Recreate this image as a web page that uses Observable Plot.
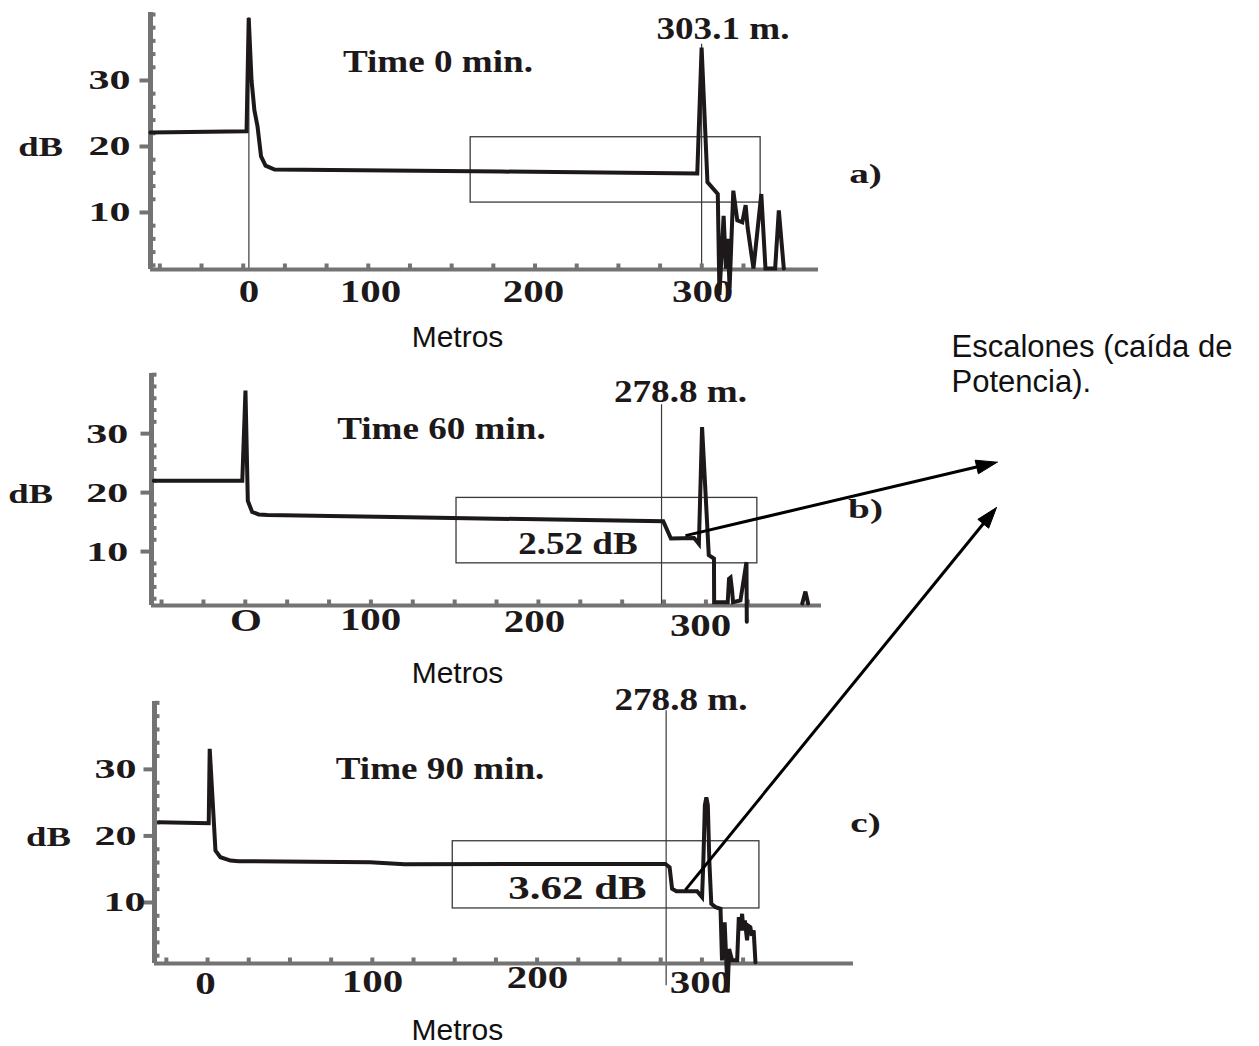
<!DOCTYPE html>
<html>
<head>
<meta charset="utf-8">
<script src="https://cdn.jsdelivr.net/npm/d3@7"></script>
<script src="https://cdn.jsdelivr.net/npm/@observablehq/plot@0.6"></script>
<style>
html, body { margin: 0; padding: 0; background: #fff; }
#page { position: relative; width: 1259px; height: 1046px; overflow: hidden; background: #fff; }
#page svg { position: absolute; left: 0; top: 0; }
</style>
</head>
<body>
<div id="page"></div>
<script>
// ======================= DATA =======================
// OTDR traces: [metros, dB]
const traceA = [[-30.6,22.1],[27.0,22.3],[28.3,39.5],[30.0,30.0],[31.7,25.5],[33.6,23.0],[35.7,18.5],[38.4,17.1],[43.8,16.5],[180,16.2],[297.3,15.9],[299.9,35.0],[303.4,14.6],[309.6,12.8],[310.6,-2.5],[313.1,9.5],[314.5,1.5],[315.5,6.0],[316.7,-1.4],[318.9,13.3],[321.3,8.8],[324.3,8.5],[326.3,11.1],[327.5,7.7],[331.0,1.5],[335.7,12.8],[338.2,1.5],[344.0,1.5],[346.2,10.3],[349.2,1.5]];
const traceB = [[-29.6,22.0],[23.2,22.0],[25.1,37.3],[26.5,18.6],[29.1,16.7],[33.0,16.3],[38.2,16.2],[122.4,15.8],[274.5,15.15],[279.1,12.2],[292.9,12.3],[294.1,11.9],[295.8,11.3],[297.7,31.1],[301.7,9.4],[304.8,8.8],[304.9,1.4],[313.0,1.4],[313.8,5.4],[314.7,5.6],[315.6,3.4],[316.2,1.4],[320.6,1.7],[324.2,8.2],[324.4,-1.9]];
const blipB = [[357.5,1.2],[359.4,3.2],[361.0,1.2]];
const traceC = [[-29.6,22.06],[0.7,21.9],[1.3,33.1],[4.8,17.8],[7.8,16.8],[13.9,16.3],[18.9,16.2],[98.6,16.05],[119.5,15.75],[277.8,15.8],[280.4,15.3],[281.9,12.05],[284.5,11.7],[297.1,11.7],[300.1,10.8],[300.9,16.3],[301.8,24.6],[302.7,25.8],[303.6,24.6],[304.5,16.3],[305.7,9.8],[308.3,9.3],[311.3,9.05],[312.2,1.3],[313.8,7.0],[315.6,-3.5],[316.5,3.0],[318.3,1.3],[321.4,1.3],[322.4,7.8],[323.4,5.8],[324.4,8.3],[325.2,5.8],[326.1,7.3],[327.4,4.3],[328.2,6.5],[329.4,6.3],[330.3,5.0],[331.4,5.8],[332.5,1.0]];

// zoom boxes: [x1, x2, y1, y2]
const boxA = [161.4, 335.3, 11.5, 21.4];
const boxB = [151.1, 330.7, 8.0, 19.1];
const boxC = [148.8, 334.9, 9.1, 19.2];

// thin event markers: [metros, dB from, dB to]
const markersA = [[28.4, 1.36, 39.5], [299.9, 1.36, 35.5]];
const markersB = [[273.5, 0.85, 34.9]];
const markersC = [[278.3, -2.5, 38.8]];

// ticks
const yTicks = [10, 20, 30];
const yMinor = [2,4,6,8,12,14,16,18,22,24,26,28,32,34,36,38,40];
const xMinor = [-25,0,25,50,75,100,125,150,175,200,225,250,275,300,325];

// tick labels
const yLabelsA = [{x:-42.6,y:10,text:"10"},{x:-42.6,y:20,text:"20"},{x:-42.6,y:30,text:"30"}];
const yLabelsB = [{x:-44.9,y:10,text:"10"},{x:-44.9,y:20,text:"20"},{x:-44.9,y:30,text:"30"}];
const yLabelsC = [{x:-37.7,y:10,text:"10"},{x:-43.1,y:20,text:"20"},{x:-43.1,y:30,text:"30"}];
const xLabelsA = [{x:28.5,y:-2.0,text:"0"},{x:101.3,y:-2.0,text:"100"},{x:199.1,y:-2.0,text:"200"},{x:300.5,y:-2.0,text:"300"}];
const xLabelsB = [{x:25.4,y:-1.7,text:"O"},{x:99.8,y:-1.5,text:"100"},{x:197.6,y:-1.85,text:"200"},{x:296.8,y:-2.5,text:"300"}];
const xLabelsC = [{x:-1.3,y:-2.2,text:"0"},{x:100.1,y:-1.9,text:"100"},{x:200.2,y:-1.3,text:"200"},{x:299.1,y:-2.0,text:"300"}];

// annotations
const notesA = [{x:141.8,y:32.9,text:"Time 0 min."},{x:312.7,y:37.9,text:"303.1 m."}];
const notesB = [{x:142.1,y:30.9,text:"Time 60 min."},{x:284.8,y:37.1,text:"278.8 m."},{x:223.6,y:11.4,text:"2.52 dB"}];
const notesC = [{x:141.1,y:30.05,text:"Time 90 min."},{x:287.3,y:40.5,text:"278.8 m."}];
const lossC = [{x:224.5,y:12.1,text:"3.62 dB"}];
const unitA = [{x:-96.5,y:19.85,text:"dB"}], unitB = [{x:-103.2,y:19.7,text:"dB"}], unitC = [{x:-96.5,y:19.8,text:"dB"}];
const letterA = [{x:398.2,y:15.9,text:"a)"}], letterB = [{x:395.3,y:17.2,text:"b)"}], letterC = [{x:399.3,y:22.0,text:"c)"}];
const metrosA = [{x:153.5,y:-8.9,text:"Metros"}], metrosB = [{x:151.7,y:-10.7,text:"Metros"}], metrosC = [{x:151.6,y:-9.2,text:"Metros"}];

// callout and arrows (arrow tails are points on panels b and c, heads point at the callout)
const calloutLines = [{x:951,y:346.8,text:"Escalones (caída de"},{x:951,y:381.8,text:"Potencia)."}];
const arrowTails = [{panel:"b",x:287.8,y:12.7},{panel:"c",x:290.0,y:11.9}];
const arrowHeads = [[996.7,461.7],[996.0,507.0]];

// ======================= LAYOUT / STYLE =======================
const W = 1259, H = 1046;
const INK = "#1d1819";
const AXIS = "#737373";
const THIN = "#3a3a3a";
const SERIF = "'Liberation Serif', 'Times New Roman', serif";
const SANS = "'Liberation Sans', Arial, sans-serif";

// horizontal stretch of the bold serif labels (the source figure was widened)
const stretchGroups = [
  [[yLabelsA, yLabelsB, yLabelsC], 1.5],
  [[xLabelsA, xLabelsB, xLabelsC], 1.28],
  [[notesA, notesB, notesC], 1.16],
  [[lossC], 1.3],
  [[unitA, unitB, unitC], 1.36],
  [[letterA, letterB, letterC], 1.4]
];
const stretchOf = new Map();
stretchGroups.forEach(([groups, f]) => groups.forEach(g => g.forEach(d => stretchOf.set(d.text, f))));

const panels = {
  a: {xDomain:[-30.6,370], xRange:[150,818], yDomain:[1.36,40.3], yRange:[269,12],
      traces:[traceA], box:boxA, markers:markersA, yLabels:yLabelsA, xLabels:xLabelsA, notes:notesA, loss:[], unit:unitA, letter:letterA, metros:metrosA},
  b: {xDomain:[-31,369], xRange:[151,821], yDomain:[0.85,40.2], yRange:[605,373],
      traces:[traceB, blipB], box:boxB, markers:markersB, yLabels:yLabelsB, xLabels:xLabelsB, notes:notesB, loss:[], unit:unitB, letter:letterB, metros:metrosB},
  c: {xDomain:[-32.2,392], xRange:[154,853], yDomain:[0.83,40.2], yRange:[963,701],
      traces:[traceC], box:boxC, markers:markersC, yLabels:yLabelsC, xLabels:xLabelsC, notes:notesC, loss:lossC, unit:unitC, letter:letterC, metros:metrosC}
};

const sym = draw => ({draw});
const yMajorSym = sym(c => c.rect(-11, -2, 11, 4));
const yMinorSym = sym(c => c.rect(0, -2, 5, 4));
const xMinorSym = sym(c => c.rect(-2, -6, 4, 6));

function buildPanel(p) {
  const [x0, x1] = p.xDomain, [y0, y1] = p.yDomain;
  const serif = {x: "x", y: "y", text: "text", fontFamily: SERIF, fontWeight: "bold", fill: INK};
  return Plot.plot({
    width: W, height: H,
    style: {background: "transparent", overflow: "visible"},
    x: {domain: p.xDomain, range: p.xRange, axis: null},
    y: {domain: p.yDomain, range: p.yRange, axis: null},
    marks: [
      Plot.rect([p.box], {x1: d => d[0], x2: d => d[1], y1: d => d[2], y2: d => d[3], fill: "none", stroke: THIN, strokeWidth: 1.3}),
      Plot.ruleX(p.markers, {x: d => d[0], y1: d => d[1], y2: d => d[2], stroke: THIN, strokeWidth: 1.2}),
      Plot.ruleY([y0], {x1: x0, x2: x1, stroke: AXIS, strokeWidth: 4}),
      Plot.ruleX([x0], {y1: y0, y2: y1, stroke: AXIS, strokeWidth: 5}),
      Plot.dot(yMinor.filter(v => v <= y1), {x: () => x0, y: d => d, symbol: yMinorSym, fill: AXIS, stroke: "none"}),
      Plot.dot(yTicks, {x: () => x0, y: d => d, symbol: yMajorSym, fill: AXIS, stroke: "none"}),
      Plot.dot(xMinor.filter(v => v > x0), {x: d => d, y: () => y0, symbol: xMinorSym, fill: AXIS, stroke: "none"}),
      ...p.traces.map(t => Plot.line(t, {x: d => d[0], y: d => d[1], stroke: INK, strokeWidth: 4, strokeLinejoin: "miter", strokeMiterlimit: 4})),
      Plot.text(p.yLabels, {...serif, fontSize: 28, textAnchor: "end"}),
      Plot.text(p.xLabels, {...serif, fontSize: 32}),
      Plot.text(p.notes, {...serif, fontSize: 32}),
      Plot.text(p.loss, {...serif, fontSize: 33}),
      Plot.text(p.unit, {...serif, fontSize: 27}),
      Plot.text(p.letter, {...serif, fontSize: 28}),
      Plot.text(p.metros, {x: "x", y: "y", text: "text", fontFamily: SANS, fontSize: 30, fill: "#111"})
    ]
  });
}

function stretch(svg) {
  svg.querySelectorAll("text").forEach(t => {
    const f = stretchOf.get(t.textContent.trim());
    if (!f || f === 1) return;
    const L = t.getComputedTextLength();
    if (!(L > 0)) return;
    t.setAttribute("textLength", (L * f).toFixed(1));
    t.setAttribute("lengthAdjust", "spacingAndGlyphs");
  });
}

const page = document.getElementById("page");
for (const key of ["a", "b", "c"]) {
  const svg = buildPanel(panels[key]);
  page.appendChild(svg);
  stretch(svg);
}

// ---- overlay: callout + arrows, tails taken through the panels' own scales ----
const arrows = arrowTails.map((t, i) => {
  const p = panels[t.panel];
  const sx = d3.scaleLinear(p.xDomain, p.xRange), sy = d3.scaleLinear(p.yDomain, p.yRange);
  const tx = sx(t.x), ty = sy(t.y);
  const [hx, hy] = arrowHeads[i];
  const len = Math.hypot(hx - tx, hy - ty), ux = (hx - tx) / len, uy = (hy - ty) / len;
  const L = 21, w = 7, bx = hx - ux * L, by = hy - uy * L;
  return {
    id: i, tx, ty, ex: bx + ux * 3, ey: by + uy * 3,
    tri: [[hx, hy], [bx - uy * w, by + ux * w], [bx + uy * w, by - ux * w], [hx, hy]].map(([x, y]) => ({id: i, x, y}))
  };
});

const overlay = Plot.plot({
  width: W, height: H,
  style: {background: "transparent", overflow: "visible"},
  x: {domain: [0, W], range: [0, W], axis: null},
  y: {domain: [0, H], range: [0, H], axis: null},
  marks: [
    Plot.link(arrows, {x1: "tx", y1: "ty", x2: "ex", y2: "ey", stroke: "#000", strokeWidth: 3}),
    Plot.line(arrows.flatMap(a => a.tri), {x: "x", y: "y", z: "id", fill: "#000", stroke: "#000", strokeWidth: 1}),
    Plot.text(calloutLines, {x: "x", y: "y", text: "text", textAnchor: "start", fontFamily: SANS, fontSize: 31, fill: "#111"})
  ]
});
overlay.style.pointerEvents = "none";
page.appendChild(overlay);
</script>
</body>
</html>
